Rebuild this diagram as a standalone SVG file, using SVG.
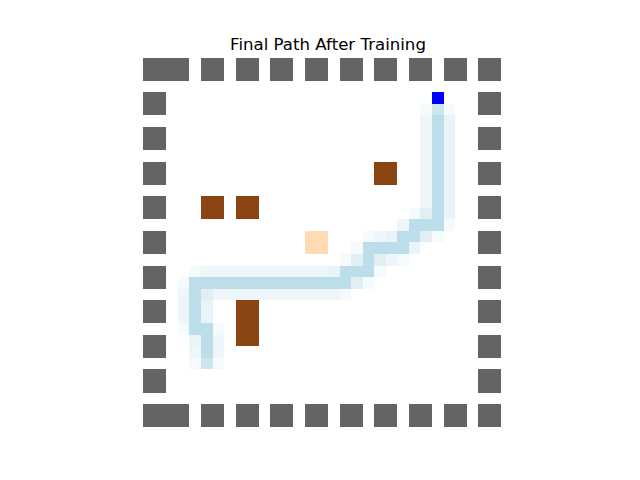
<svg xmlns="http://www.w3.org/2000/svg" width="640" height="480" viewBox="0 0 640 480">
<style>
.w{fill:#646464}
.o{fill:#8B4513}
.c{fill:#BBDEEA}
.m1{fill:#CDE6EE}
.l2{fill:#E1EFF5}
.l3{fill:#E9F4F9}
.l4{fill:#EEF6FA}
.l5{fill:#F5FAFD}
rect{shape-rendering:crispEdges}
</style>
<rect width="640" height="480" fill="#ffffff"/>
<text x="328" y="49.5" font-family="DejaVu Sans, sans-serif" font-size="16.6" text-anchor="middle" fill="#000">Final Path After Training</text>
<g transform="translate(143.2,57.6) scale(11.55)">
<g id="path-trail">
<rect class="l5" x="24" y="4" width="1" height="1"/><rect class="m1" x="25" y="4" width="1" height="1"/><rect class="l5" x="26" y="4" width="1" height="1"/>
<rect class="l4" x="24" y="5" width="1" height="8"/><rect class="c" x="25" y="5" width="1" height="9"/><rect class="l3" x="26" y="5" width="1" height="9"/>
<rect class="l5" x="23" y="13" width="1" height="1"/><rect class="l2" x="24" y="13" width="1" height="1"/>
<rect class="l4" x="22" y="14" width="1" height="1"/><rect class="c" x="23" y="14" width="3" height="1"/><rect class="l5" x="26" y="14" width="1" height="1"/>
<rect class="l5" x="19" y="15" width="1" height="1"/><rect class="l4" x="20" y="15" width="1" height="1"/><rect class="l3" x="21" y="15" width="1" height="1"/><rect class="c" x="22" y="15" width="2" height="1"/><rect class="l2" x="24" y="15" width="1" height="1"/><rect class="l5" x="25" y="15" width="1" height="1"/>
<rect class="l5" x="18" y="16" width="1" height="1"/><rect class="c" x="19" y="16" width="4" height="1"/><rect class="l3" x="23" y="16" width="1" height="1"/>
<rect class="l5" x="17" y="17" width="1" height="1"/><rect class="l2" x="18" y="17" width="1" height="1"/><rect class="c" x="19" y="17" width="1" height="1"/><rect class="l2" x="20" y="17" width="1" height="1"/><rect class="l4" x="21" y="17" width="1" height="1"/><rect class="l5" x="22" y="17" width="1" height="1"/>
<rect class="l5" x="4" y="18" width="1" height="1"/><rect class="l4" x="5" y="18" width="11" height="1"/><rect class="l3" x="16" y="18" width="1" height="1"/><rect class="c" x="17" y="18" width="3" height="1"/><rect class="l5" x="20" y="18" width="1" height="1"/>
<rect class="l5" x="3" y="19" width="1" height="1"/><rect class="c" x="4" y="19" width="14" height="1"/><rect class="l2" x="18" y="19" width="1" height="1"/><rect class="l5" x="19" y="19" width="1" height="1"/>
<rect class="l4" x="3" y="20" width="1" height="3"/><rect class="c" x="4" y="20" width="1" height="4"/><rect class="l2" x="5" y="20" width="1" height="1"/><rect class="l4" x="6" y="20" width="11" height="1"/><rect class="l5" x="17" y="20" width="1" height="1"/>
<rect class="l3" x="5" y="21" width="1" height="2"/>
<rect class="l5" x="3" y="23" width="1" height="1"/><rect class="c" x="5" y="23" width="1" height="3"/><rect class="l5" x="6" y="23" width="1" height="1"/>
<rect class="l3" x="4" y="24" width="1" height="1"/><rect class="l4" x="6" y="24" width="1" height="2"/>
<rect class="l4" x="4" y="25" width="1" height="1"/>
<rect class="l5" x="4" y="26" width="1" height="1"/><rect class="m1" x="5" y="26" width="1" height="1"/><rect class="l5" x="6" y="26" width="1" height="1"/>
</g>
<g id="walls">
<rect class="w" x="0" y="0" width="4" height="2"/><rect class="w" x="5" y="0" width="2" height="2"/><rect class="w" x="8" y="0" width="2" height="2"/><rect class="w" x="11" y="0" width="2" height="2"/><rect class="w" x="14" y="0" width="2" height="2"/><rect class="w" x="17" y="0" width="2" height="2"/><rect class="w" x="20" y="0" width="2" height="2"/><rect class="w" x="23" y="0" width="2" height="2"/><rect class="w" x="26" y="0" width="2" height="2"/><rect class="w" x="29" y="0" width="2" height="2"/>
<rect class="w" x="0" y="30" width="4" height="2"/><rect class="w" x="5" y="30" width="2" height="2"/><rect class="w" x="8" y="30" width="2" height="2"/><rect class="w" x="11" y="30" width="2" height="2"/><rect class="w" x="14" y="30" width="2" height="2"/><rect class="w" x="17" y="30" width="2" height="2"/><rect class="w" x="20" y="30" width="2" height="2"/><rect class="w" x="23" y="30" width="2" height="2"/><rect class="w" x="26" y="30" width="2" height="2"/><rect class="w" x="29" y="30" width="2" height="2"/>
<rect class="w" x="0" y="3" width="2" height="2"/><rect class="w" x="0" y="6" width="2" height="2"/><rect class="w" x="0" y="9" width="2" height="2"/><rect class="w" x="0" y="12" width="2" height="2"/><rect class="w" x="0" y="15" width="2" height="2"/><rect class="w" x="0" y="18" width="2" height="2"/><rect class="w" x="0" y="21" width="2" height="2"/><rect class="w" x="0" y="24" width="2" height="2"/><rect class="w" x="0" y="27" width="2" height="2"/>
<rect class="w" x="29" y="3" width="2" height="2"/><rect class="w" x="29" y="6" width="2" height="2"/><rect class="w" x="29" y="9" width="2" height="2"/><rect class="w" x="29" y="12" width="2" height="2"/><rect class="w" x="29" y="15" width="2" height="2"/><rect class="w" x="29" y="18" width="2" height="2"/><rect class="w" x="29" y="21" width="2" height="2"/><rect class="w" x="29" y="24" width="2" height="2"/><rect class="w" x="29" y="27" width="2" height="2"/>
</g>
<g id="obstacles">
<rect class="o" x="20" y="9" width="2" height="2"/>
<rect class="o" x="5" y="12" width="2" height="2"/>
<rect class="o" x="8" y="12" width="2" height="2"/>
<rect class="o" x="8" y="21" width="2" height="4"/>
</g>
<g id="goal"><rect x="14" y="15" width="2" height="2" fill="#FFDAB3"/></g>
<g id="agent"><rect x="25" y="3" width="1" height="1" fill="#0000FF"/></g>
</g>
</svg>
